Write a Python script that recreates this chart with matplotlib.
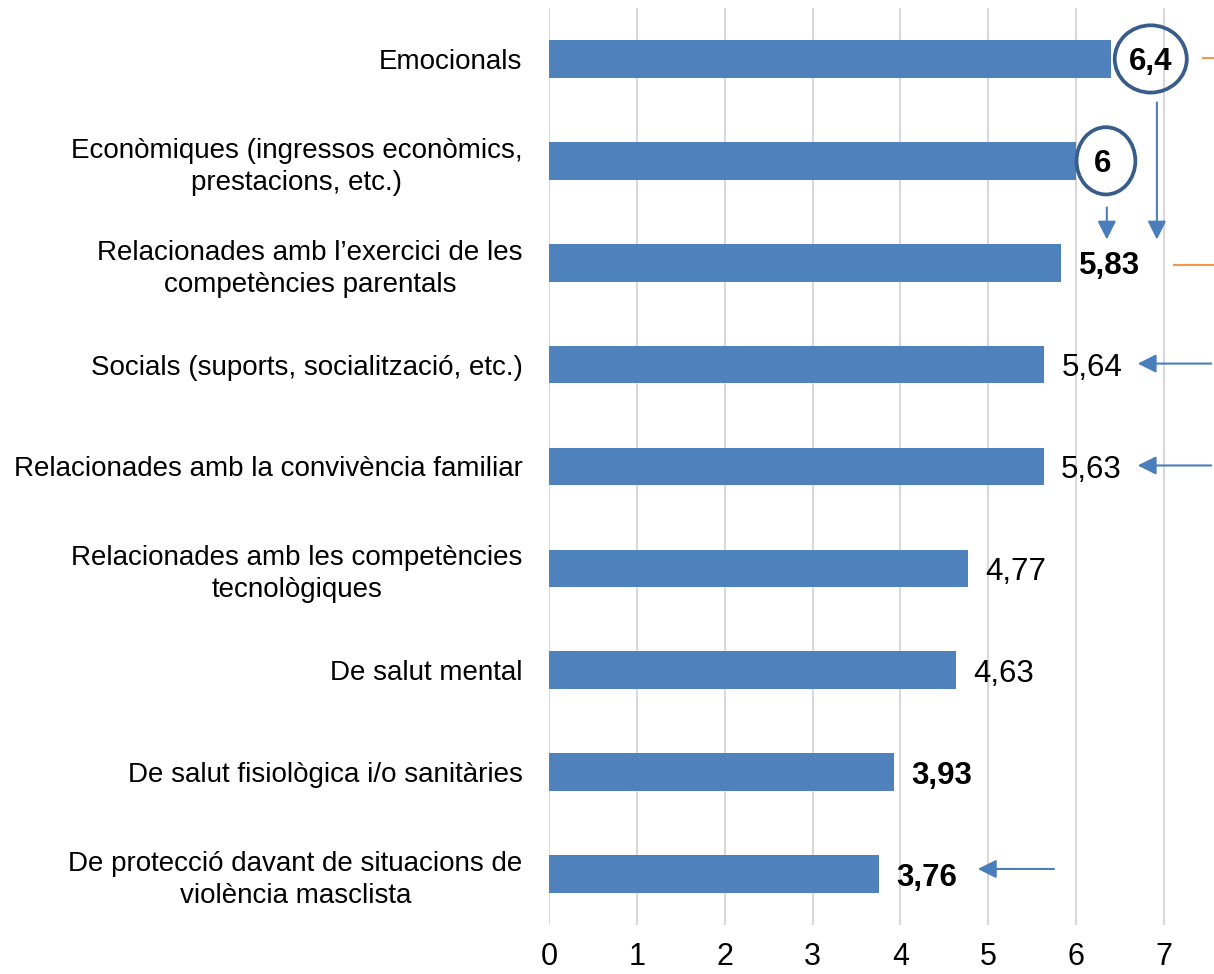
# horizontal bar chart: average score per type of need
import matplotlib.pyplot as plt
from matplotlib.patches import Ellipse

plt.rcParams['font.family'] = ['Liberation Sans', 'DejaVu Sans']

# Data
categories = [
    "Emocionals",
    "Econòmiques (ingressos econòmics,\nprestacions, etc.)",
    "Relacionades amb l’exercici de les\ncompetències parentals",
    "Socials (suports, socialització, etc.)",
    "Relacionades amb la convivència familiar",
    "Relacionades amb les competències\ntecnològiques",
    "De salut mental",
    "De salut fisiològica i/o sanitàries",
    "De protecció davant de situacions de\nviolència masclista",
]
values = [6.4, 6.0, 5.83, 5.64, 5.63, 4.77, 4.63, 3.93, 3.76]
value_labels = ["6,4", "6", "5,83", "5,64", "5,63", "4,77", "4,63", "3,93", "3,76"]
bold_labels = [True, True, True, False, False, False, False, True, True]
x_ticks = [0, 1, 2, 3, 4, 5, 6, 7]

bar_color = "#4F81BD"
arrow_color = "#4A7EBB"
circle_color = "#385D8A"
orange = "#F79646"

fig = plt.figure(figsize=(12.14, 9.74), dpi=100)
ax = fig.add_axes([0.4522, 0.0503, 0.5478, 0.9415])

y = list(range(len(categories)))
ax.barh(y, values, height=0.37, color=bar_color, zorder=3)

ax.set_xlim(0, 7.57)
ax.set_ylim(8.5, -0.5)
ax.set_xticks(x_ticks)
ax.set_xticklabels([str(t) for t in x_ticks], fontsize=22)
ax.set_yticks(y)
ax.set_yticklabels(categories, fontsize=20)
for t in ax.get_yticklabels():
    t.set_multialignment("center")
    t.set_linespacing(1.3)
ax.tick_params(axis="both", length=0)
ax.tick_params(axis="y", pad=19)
ax.tick_params(axis="x", pad=12)
ax.grid(axis="x", color="#D9D9D9", linewidth=1.5, zorder=0)
for s in ax.spines.values():
    s.set_visible(False)

# value labels
for i, (v, lab, b) in enumerate(zip(values, value_labels, bold_labels)):
    ax.annotate(lab, (v, i), xytext=(12.5, 0), textcoords="offset points",
                ha="left", va="center_baseline", fontsize=22.5,
                fontweight="bold" if b else "normal", zorder=5)

# circles round the two top values
ax.add_patch(Ellipse((6.85, 0.0), 0.82, 0.66, fill=False,
                     edgecolor=circle_color, linewidth=2.7, zorder=6))
ax.add_patch(Ellipse((6.34, 1.0), 0.67, 0.66, fill=False,
                     edgecolor=circle_color, linewidth=2.7, zorder=6))

# arrows
arrow_kw = dict(arrowstyle="-|>", color=arrow_color, lw=1.5, mutation_scale=28)
arrows = [
    ((6.92, 0.40), (6.92, 1.80)),
    ((6.35, 1.43), (6.35, 1.80)),
    ((7.57, 2.99), (6.67, 2.99)),
    ((7.57, 3.99), (6.67, 3.99)),
    ((5.78, 7.95), (4.85, 7.95)),
]
for start, end in arrows:
    ax.annotate("", xy=end, xytext=start, arrowprops=arrow_kw,
                annotation_clip=False, zorder=7)

# orange marks at the right edge
ax.plot([7.44, 7.57], [-0.01, -0.01], color=orange, lw=1.5, clip_on=False)
ax.plot([7.12, 7.57], [2.02, 2.02], color=orange, lw=1.5, clip_on=False)

plt.savefig("out.png", dpi=100)
